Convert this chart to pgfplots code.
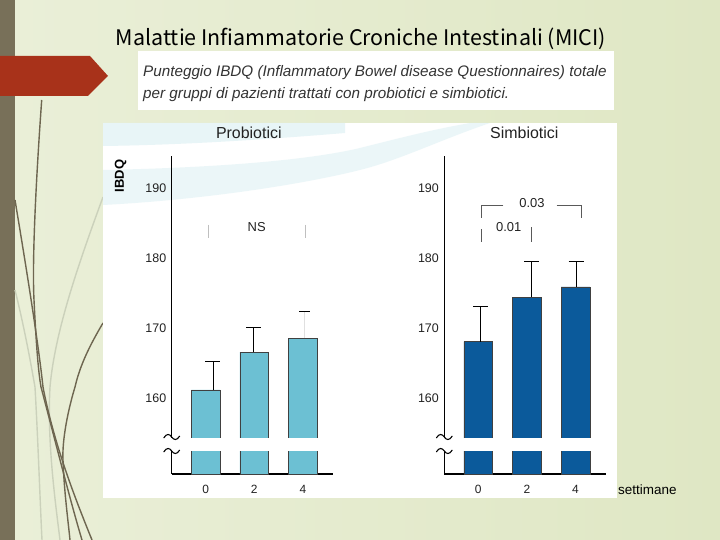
\documentclass[border=0pt]{standalone}
\usepackage{fontspec}
\setmainfont{Liberation Sans}
\newfontfamily\cjk{Noto Sans CJK JP}
\usepackage{graphicx}
\usepackage{pgfplots}
\pgfplotsset{compat=1.18}
\pgfplotsset{/pgf/number format/assume math mode=true}

\definecolor{bgL}{HTML}{EAEFD8}
\definecolor{bgR}{HTML}{DFE7C4}
\definecolor{stripe}{HTML}{787059}
\definecolor{arrowred}{HTML}{A8321A}
\definecolor{darkline}{HTML}{6E6650}
\definecolor{lightline}{HTML}{CBD1BB}
\definecolor{swoosh}{HTML}{DCF0F3}
\definecolor{lightbar}{HTML}{6CC0D3}
\definecolor{darkbar}{HTML}{0B5A9B}
\definecolor{txt}{HTML}{222222}
\definecolor{subtxt}{HTML}{333333}

\pgfplotsset{
  panel/.style={
    anchor=south west, scale only axis,
    width=161.5bp, height=318bp,
    xmin=-1.4, xmax=5.25, ymin=149.2, ymax=194.6,
    axis x line=bottom, axis y line=left,
    axis line style={-, line width=1.1bp, black},
    xtick={0,2,4}, ytick={160,170,180,190},
    major tick length=0pt,
    yticklabel style={font=\fontsize{12.5}{14}\selectfont, text=txt, xshift=-2bp},
    xticklabel style={font=\fontsize{12}{14}\selectfont, text=txt, yshift=-8bp},
  },
  barstyle/.style={ybar, bar width=1.18, bar shift=0pt, draw=black!75, line width=0.4bp},
  ebar/.style={draw=none, mark=none,
    error bars/.cd, y dir=plus, y explicit,
    error bar style={line width=0.6bp, draw=black},
    error mark options={line width=0.6bp, draw=black, rotate=90, mark size=7.5bp}},
}

\begin{document}
\begin{tikzpicture}
\begin{scope}[x=1bp,y=-1bp]
\path[use as bounding box] (0,0) rectangle (720,540);
\shade[left color=bgL, right color=bgR] (0,0) rectangle (720,540);
\fill[stripe] (0,0) rectangle (15,540);
% decorative lines
\draw[lightline, line width=1.4bp] (103,197) .. controls (80,260) and (55,330) .. (50,387) .. controls (47,440) and (55,500) .. (60,540);
\draw[lightline, line width=1.4bp] (15,290) .. controls (25,330) and (32,370) .. (35,387) .. controls (38,440) and (40,500) .. (42,540);
\draw[darkline, line width=1.4bp] (41.7,100) .. controls (36,180) and (32,260) .. (34,300) .. controls (36,340) and (38,370) .. (41,387) .. controls (55,440) and (70,500) .. (82,540);
\draw[darkline, line width=1.4bp] (15,200) .. controls (25,260) and (38,340) .. (43,387) .. controls (55,450) and (80,510) .. (92,540);
\draw[darkline, line width=1.4bp] (103,323) .. controls (90,345) and (80,365) .. (75,387) .. controls (68,410) and (62,440) .. (63,460) .. controls (64,490) and (68,520) .. (70,540);
% red arrow
\fill[arrowred] (0,56) -- (90,56) -- (108,76) -- (88,96) -- (0,96) -- cycle;
% title
\node[text=black, inner sep=0] at (361,39) {\resizebox{490bp}{!}{\cjk Malattie Infiammatorie Croniche Intestinali (MICI)}};
% subtitle box
\fill[white] (138,51) rectangle (614,110);
\node[anchor=base west, inner sep=0, text=subtxt, font=\fontsize{15.3}{18}\selectfont\itshape] at (143,77) {Punteggio IBDQ (Inflammatory Bowel disease Questionnaires) totale};
\node[anchor=base west, inner sep=0, text=subtxt, font=\fontsize{15.3}{18}\selectfont\itshape] at (143,99) {per gruppi di pazienti trattati con probiotici e simbiotici.};
% chart box
\fill[white] (103,123) rectangle (617,498);
\begin{scope}
\clip (103,123) rectangle (617,498);
\fill[swoosh, opacity=0.65] (103,123) -- (345,123) -- (345,133) .. controls (260,140) and (180,145) .. (103,146) -- cycle;
\fill[swoosh, opacity=0.55] (103,170) .. controls (200,168) and (300,162) .. (360,148) .. controls (400,138) and (430,130) .. (470,123) -- (490,123) .. controls (440,140) and (400,160) .. (360,170) .. controls (300,185) and (200,200) .. (103,205) -- cycle;
\end{scope}
% settimane
\node[anchor=west, inner sep=0, text=black, font=\fontsize{13.5}{15}\selectfont] at (618,490) {settimane};
\end{scope}

% ---------- Probiotici ----------
\begin{axis}[panel, at={(171.7bp,-474bp)}]
\addplot[barstyle, fill=lightbar] coordinates {(0,161.2) (2,166.6) (4,168.6)};
\addplot[ebar] coordinates {(0.30,161.2) +- (0,4.1) (1.98,166.6) +- (0,3.5)};
\addplot[draw=none, mark=none, error bars/.cd, y dir=plus, y explicit,
  error bar style={line width=0.6bp, draw=black!12},
  error mark options={line width=0.6bp, draw=black, rotate=90, mark size=5.5bp}]
  coordinates {(4.08,168.6) +- (0,3.8)};
\end{axis}

% ---------- Simbiotici ----------
\begin{axis}[panel, at={(444.3bp,-474bp)}]
\addplot[barstyle, fill=darkbar] coordinates {(0,168.1) (2,174.4) (4,175.9)};
\addplot[ebar] coordinates {(0.10,168.1) +- (0,5.0) (2.19,174.4) +- (0,5.1) (4.03,175.9) +- (0,3.6)};
\end{axis}

\begin{scope}[x=1bp,y=-1bp]
% axis breaks
\fill[white] (166,437.6) rectangle (336,451);
\fill[white] (439,437.6) rectangle (609,451);
\foreach \ax in {171.7,444.3}{
  \foreach \yy in {437,451}{
    \draw[line width=1.1bp, black] (\ax-8,\yy+1) .. controls (\ax-5,\yy-4) and (\ax-2,\yy-3) .. (\ax,\yy) .. controls (\ax+2,\yy+3) and (\ax+5,\yy+4) .. (\ax+8,\yy-1);
  }
}
% panel titles and labels
\node[anchor=base, inner sep=0, text=txt, font=\fontsize{16}{18}\selectfont] at (248.8,138.8) {Probiotici};
\node[anchor=base, inner sep=0, text=txt, font=\fontsize{16}{18}\selectfont] at (524.3,138.8) {Simbiotici};
\node[rotate=90, inner sep=0, text=black, font=\fontsize{13}{15}\selectfont\bfseries] at (120.7,176) {IBDQ};
% NS annotation
\draw[black!25, line width=0.7bp] (208,225) -- (208,238);
\draw[black!25, line width=0.7bp] (305.7,225) -- (305.7,238);
\node[inner sep=0, text=txt, font=\fontsize{13}{15}\selectfont] at (256.7,226.7) {NS};
% significance brackets
\draw[black!65, line width=0.7bp] (503.3,205) -- (481.7,205) -- (481.7,218.3);
\draw[black!65, line width=0.7bp] (556.7,205) -- (581.7,205) -- (581.7,218.3);
\node[inner sep=0, text=txt, font=\fontsize{13}{15}\selectfont] at (532,203.5) {0.03};
\draw[black!65, line width=0.7bp] (481.7,229.3) -- (481.7,241.7);
\draw[black!65, line width=0.7bp] (531.7,227.3) -- (531.7,241.7);
\node[inner sep=0, text=txt, font=\fontsize{13}{15}\selectfont] at (508.7,226.7) {0.01};
\end{scope}
\end{tikzpicture}
\end{document}
